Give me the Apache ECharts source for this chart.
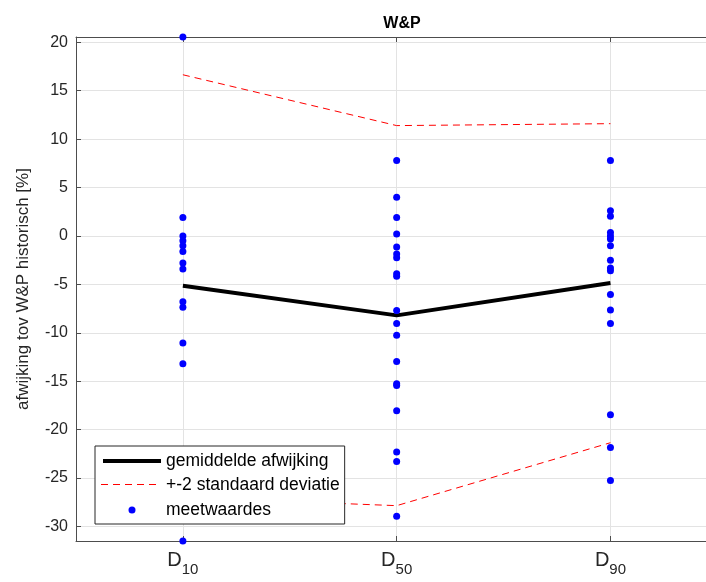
<!DOCTYPE html>
<html>
<head>
<meta charset="utf-8">
<script src="https://cdn.jsdelivr.net/npm/echarts@6/dist/echarts.min.js"></script>
<style>
  html, body { margin: 0; padding: 0; background: #fff; }
  #chart { width: 706px; height: 582px; }
</style>
</head>
<body>
<div id="chart"></div>
<script>
// Percentile categories (D10, D50, D90) placed at x = 1, 2, 3
const categories = ['10', '50', '90'];
const categoryPos = [1, 2, 3];

// Individual measurements per percentile [%]
const valuesD10 = [20.55, 1.9, 0.0, -0.5, -1.0, -1.6, -2.8, -3.4, -6.8, -7.35, -11.05, -13.2, -31.5];
const valuesD50 = [7.8, 4.0, 1.9, 0.2, -1.15, -1.85, -2.25, -3.9, -4.15, -7.7, -9.05, -10.25,
                   -12.95, -15.25, -15.45, -18.05, -22.3, -23.3, -28.95];
const valuesD90 = [7.8, 2.6, 2.05, 0.35, 0.0, -0.3, -1.0, -2.5, -3.3, -3.6, -6.05, -7.65,
                   -9.05, -18.45, -21.85, -25.25];

// Mean deviation and the +/- 2 standard deviation band
const meanDev = [-5.15, -8.2, -4.85];
const upperBand = [16.65, 11.4, 11.6];
const lowerBand = [-27.0, -27.85, -21.35];

// Y tick labels
const yTicks = [-30, -25, -20, -15, -10, -5, 0, 5, 10, 15, 20];

const FONT = 'Liberation Sans, Arial, Helvetica, sans-serif';
const TXT = '#262626';
const AXIS = '#4d4d4d';
const RED = '#ff0000';
const DASH = [7, 5];

const pairs = (xs, ys) => ys.map((v, i) => [xs[i], v]);
const measured = [];
[valuesD10, valuesD50, valuesD90].forEach((arr, i) => {
  arr.forEach(v => measured.push([categoryPos[i], v]));
});

const chart = echarts.init(document.getElementById('chart'), null, { renderer: 'canvas' });

// The plot area runs on past the right edge of the canvas; only x up to 3.447 is visible
const xMin = 0.5, xMax = 3.447;

chart.setOption({
  animation: false,
  backgroundColor: '#fff',
  title: {
    text: 'W&P',
    left: 397,
    top: 11,
    textAlign: 'center',
    textStyle: { fontFamily: FONT, fontSize: 16, fontWeight: 'bold', color: '#000' }
  },
  grid: { left: 76, top: 37, right: 0, height: 504, show: false },
  legend: {
    orient: 'vertical',
    left: 95, top: 446,
    padding: [6, 5, 5, 6],
    itemWidth: 58, itemHeight: 7, itemGap: 6.5,
    backgroundColor: '#fff',
    borderColor: '#262626', borderWidth: 1,
    textStyle: { fontFamily: FONT, fontSize: 17.5, color: '#000' },
    lineStyle: { color: 'inherit', width: 'inherit', type: 'inherit' },
    data: [
      { name: 'gemiddelde afwijking', itemStyle: { opacity: 0 } },
      // key drawn separately below as a red dashed stroke
      { name: '+-2 standaard deviatie', icon: 'rect', itemStyle: { opacity: 0 } },
      { name: 'meetwaardes', itemStyle: { color: '#0000ff', opacity: 1 } }
    ]
  },
  graphic: [{
    type: 'line', z: 100, zlevel: 0,
    shape: { x1: 101, y1: 484.5, x2: 159, y2: 484.5 },
    style: { stroke: RED, lineWidth: 1, lineDash: DASH }
  }],
  xAxis: [{
    type: 'value', min: xMin, max: xMax,
    axisLine: { show: true, onZero: false, lineStyle: { color: AXIS, width: 1 } },
    axisTick: { show: true, inside: true, length: 5, customValues: categoryPos, lineStyle: { color: AXIS } },
    axisLabel: {
      customValues: categoryPos, margin: 9,
      formatter: v => '{d|D}{s|' + categories[categoryPos.indexOf(v)] + '}',
      rich: {
        d: { fontFamily: FONT, fontSize: 20, color: TXT, verticalAlign: 'top', lineHeight: 22 },
        s: { fontFamily: FONT, fontSize: 15, color: TXT, verticalAlign: 'top', lineHeight: 22, padding: [12, 0, 0, 0] }
      }
    },
    splitLine: { show: true, lineStyle: { color: '#e3e3e3', width: 1 } }
  }, {
    type: 'value', min: xMin, max: xMax, position: 'top',
    axisLine: { show: true, onZero: false, lineStyle: { color: AXIS, width: 1 } },
    axisTick: { show: true, inside: true, length: 5, customValues: categoryPos, lineStyle: { color: AXIS } },
    axisLabel: { show: false },
    splitLine: { show: false }
  }],
  yAxis: {
    type: 'value', min: -31.5, max: 20.55,
    name: 'afwijking tov W&P historisch [%]',
    nameLocation: 'middle', nameRotate: 90, nameGap: 44,
    nameTextStyle: { fontFamily: FONT, fontSize: 17, color: TXT },
    axisLine: { show: true, onZero: false, lineStyle: { color: AXIS, width: 1 } },
    axisTick: { show: true, inside: true, length: 5, customValues: yTicks, lineStyle: { color: AXIS } },
    axisLabel: { customValues: yTicks, margin: 8, fontFamily: FONT, fontSize: 16, color: TXT },
    splitLine: { show: true, lineStyle: { color: '#e3e3e3', width: 1 } }
  },
  series: [{
    name: 'gemiddelde afwijking', type: 'line',
    data: pairs(categoryPos, meanDev),
    symbol: 'none', color: '#000',
    lineStyle: { color: '#000', width: 4 }, z: 3
  }, {
    name: '+-2 standaard deviatie', type: 'line',
    data: pairs(categoryPos, upperBand),
    symbol: 'none', color: RED,
    lineStyle: { color: RED, width: 1, type: DASH }, z: 3
  }, {
    name: '+-2 standaard deviatie', type: 'line',
    data: pairs(categoryPos, lowerBand),
    symbol: 'none', color: RED,
    lineStyle: { color: RED, width: 1, type: DASH }, z: 3
  }, {
    name: 'meetwaardes', type: 'scatter',
    data: measured, symbol: 'circle', symbolSize: 7,
    itemStyle: { color: '#0000ff', opacity: 1 }, z: 4, clip: false
  }]
});
</script>
</body>
</html>
